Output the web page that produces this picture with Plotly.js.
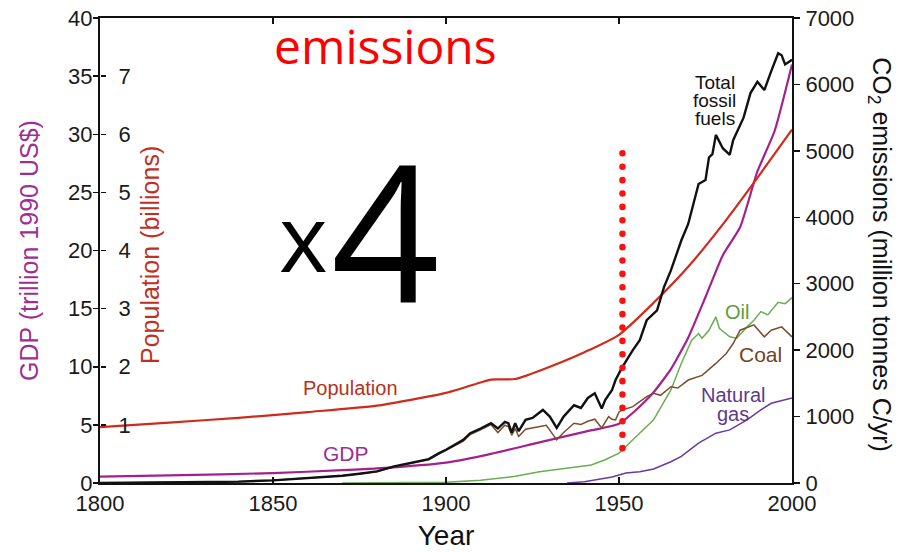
<!DOCTYPE html>
<html>
<head>
<meta charset="utf-8">
<script src="https://cdn.plot.ly/plotly-3.0.1.min.js"></script>
<style>
html,body{margin:0;padding:0;background:#fff;}
.shapelayer path{stroke-linecap:round;}
</style>
</head>
<body>
<div id="chart" style="width:902px;height:552px;"></div>
<script>
// ---- data ----
const popYears = [1800,1820,1840,1860,1880,1900,1910,1913,1920,1930,1940,1950,1960,1970,1980,1990,2000];
const population = [0.96,1.04,1.12,1.22,1.33,1.55,1.73,1.78,1.79,2.0,2.25,2.55,3.1,3.72,4.45,5.25,6.08];

const gdpYears = [1800,1820,1850,1870,1880,1900,1913,1927,1940,1950,1955,1960,1965,1970,1975,1980,1985,1990,1995,2000];
const gdp = [0.55,0.65,0.85,1.1,1.25,1.75,2.5,3.5,4.4,5.1,6.3,7.8,9.8,12.5,16.0,19.6,22.0,26.8,30.3,36.0];

const fossilYears = [1800,1820,1840,1850,1860,1870,1875,1880,1885,1890,1895,1898,1900,1905,1907,1910,1913,1915,1917,1918,1919,1920,1921,1923,1925,1928,1930,1932,1934,1937,1939,1941,1943,1945,1946,1948,1949,1950,1951,1954,1956,1958,1960,1961,1963,1965,1968,1970,1973,1975,1976,1977,1978,1980,1982,1983,1986,1988,1990,1992,1994,1996,1997,1998,2000];
const fossil = [0,5,20,40,70,110,140,175,250,310,360,450,500,650,750,820,900,820,920,900,760,900,780,950,980,1100,1000,830,1000,1170,1130,1280,1350,1120,1250,1400,1550,1650,1750,2000,2150,2450,2550,2600,2950,3200,3650,3900,4500,4560,4900,4950,5240,5040,4940,5160,5500,5870,6040,5915,6200,6470,6440,6300,6370];

const coalYears = [1800,1820,1840,1850,1860,1870,1875,1880,1885,1890,1895,1898,1900,1905,1907,1910,1913,1915,1917,1918,1919,1920,1921,1923,1927,1929,1932,1934,1937,1939,1941,1943,1945,1947,1948,1949,1950,1951,1954,1958,1960,1962,1965,1967,1970,1974,1978,1981,1983,1985,1989,1992,1994,1997,2000];
const coal = [0,5,20,40,70,108,138,170,245,300,350,440,490,630,730,800,880,760,870,850,720,820,700,810,850,870,650,760,900,880,930,960,830,1000,960,950,1070,1100,1150,1300,1350,1320,1450,1430,1550,1620,1800,1950,2100,2300,2380,2200,2300,2350,2200];

const oilYears = [1870,1900,1910,1920,1927,1935,1942,1946,1950,1954,1960,1965,1968,1971,1973,1974,1976,1978,1979,1982,1984,1987,1989,1991,1993,1996,1998,2000];
const oil = [0,10,40,100,170,220,270,350,450,650,950,1400,1800,2150,2250,2180,2300,2500,2330,2200,2180,2350,2450,2580,2530,2720,2700,2790];

const gasYears = [1935,1940,1948,1950,1952,1956,1960,1965,1968,1973,1978,1982,1987,1991,1994,2000];
const gas = [0,20,90,120,150,170,210,320,400,600,750,800,950,1100,1200,1280];

const gdpTicks = [0,5,10,15,20,25,30,35,40];
const popTicks = [1,2,3,4,5,6,7];
const co2Ticks = [0,1000,2000,3000,4000,5000,6000,7000];
const yearTicks = [1800,1850,1900,1950,2000];

// ---- drawing ----
const F = 'Arial, "Liberation Sans", Helvetica, sans-serif';
const C = {pop:'#d02a1c', gdp:'#a3218f', fossil:'#111111', oil:'#6aae50', coal:'#7a4e2c', gas:'#6a3a9e'};

const traces = [
  {x: popYears, y: population, yaxis:'y2', mode:'lines', line:{color:C.pop, width:2.2, shape:'spline', smoothing:0.6}, hoverinfo:'skip'},
  {x: gdpYears, y: gdp, yaxis:'y', mode:'lines', line:{color:C.gdp, width:2.2, shape:'spline', smoothing:0.5}, hoverinfo:'skip'},
  {x: gasYears, y: gas, yaxis:'y3', mode:'lines', line:{color:C.gas, width:1.5}, hoverinfo:'skip'},
  {x: oilYears, y: oil, yaxis:'y3', mode:'lines', line:{color:C.oil, width:1.5}, hoverinfo:'skip'},
  {x: coalYears, y: coal, yaxis:'y3', mode:'lines', line:{color:C.coal, width:1.5}, hoverinfo:'skip'},
  {x: fossilYears, y: fossil, yaxis:'y3', mode:'lines', line:{color:C.fossil, width:2.4}, hoverinfo:'skip'}
];

function lbl(text, x, y, yref, color, size) {
  return {text, x, y, xref:'x', yref, showarrow:false, xanchor:'center', yanchor:'middle',
          font:{family:F, size, color}};
}

const layout = {
  width: 902, height: 552,
  margin: {l:100, r:110, t:18, b:69},
  paper_bgcolor:'#ffffff', plot_bgcolor:'#ffffff',
  showlegend:false,
  xaxis: {range:[1800,2000], tickvals:yearTicks, ticks:'inside', ticklen:6, tickwidth:1.5, tickcolor:'#111',
          showline:true, linewidth:2, linecolor:'#111', mirror:'ticks', showgrid:false, zeroline:false,
          tickfont:{family:F, size:22, color:'#1a1a1a'},
          title:{text:'Year', font:{family:F, size:28, color:'#111'}, standoff:10}},
  yaxis: {range:[0,40], tickvals:gdpTicks, ticks:'outside', ticklen:5, tickwidth:1.5, tickcolor:'#111',
          showline:true, linewidth:2, linecolor:'#111', showgrid:false, zeroline:false,
          tickfont:{family:F, size:22, color:'#1a1a1a'}, ticklabelstandoff:-4,
          title:{text:'GDP (trillion 1990 US$)', font:{family:F, size:25, color:'#9c2f92'}, standoff:22}},
  yaxis2: {range:[0,8], tickvals:popTicks, overlaying:'y', side:'right', anchor:'free', position:0,
          ticks:'outside', ticklen:5, tickwidth:1.5, tickcolor:'#111',
          showline:false, showgrid:false, zeroline:false,
          tickfont:{family:F, size:22, color:'#1a1a1a'}, ticklabelstandoff:8},
  yaxis3: {range:[0,7000], tickvals:co2Ticks, overlaying:'y', side:'right', ticks:'outside', ticklen:6, tickwidth:1.5, tickcolor:'#111',
          showline:true, linewidth:2, linecolor:'#111', showgrid:false, zeroline:false,
          tickfont:{family:F, size:22, color:'#1a1a1a'}, ticklabelstandoff:1},
  shapes: [
    {type:'line', xref:'x', yref:'y', x0:1951, x1:1951, y0:3.0, y1:29.0,
     line:{color:'#ff1010', width:6.5, dash:'0.1px,13.3px'}}
  ],
  annotations: [
    {text:'Population (billions)', xref:'paper', yref:'paper', x:0.072, y:0.49, textangle:-90, showarrow:false,
     xanchor:'center', yanchor:'middle', font:{family:F, size:25, color:'#c0301e'}},
    {text:'CO<sub>2</sub> emissions (million tonnes C/yr)', xref:'paper', yref:'paper', x:1.127, y:0.49, textangle:90, showarrow:false,
     xanchor:'center', yanchor:'middle', font:{family:F, size:25, color:'#111'}},
    lbl('Total', 1977.7, 6035, 'y3', '#111', 19),
    lbl('fossil', 1977.7, 5764, 'y3', '#111', 19),
    lbl('fuels', 1977.7, 5493, 'y3', '#111', 19),
    lbl('Oil', 1984.1, 2574, 'y3', '#5a9e3e', 20),
    lbl('Coal', 1990.8, 1930, 'y3', '#6e4424', 21),
    lbl('Natural', 1983.0, 1320, 'y3', '#5b3a8c', 20),
    lbl('gas', 1983.0, 1035, 'y3', '#5b3a8c', 20),
    lbl('Population', 1872.5, 8.2, 'y', '#b8301e', 20),
    lbl('GDP', 1871.0, 2.5, 'y', '#9c2f92', 21),
    {text:'emissions', xref:'paper', yref:'paper', x:0.412, y:0.94, showarrow:false, xanchor:'center', yanchor:'middle',
     font:{family:'"Open Sans", sans-serif', size:48, color:'#ff0000'}},
    {text:'x', xref:'paper', yref:'paper', x:0.294, y:0.532, showarrow:false, xanchor:'center', yanchor:'middle',
     font:{family:'"Open Sans", sans-serif', size:93, color:'#000'}},
    {text:'4', xref:'paper', yref:'paper', x:0.412, y:0.545, showarrow:false, xanchor:'center', yanchor:'middle',
     font:{family:'"Open Sans", sans-serif', size:190, color:'#000'}}
  ]
};

Plotly.newPlot('chart', traces, layout, {staticPlot:true, displayModeBar:false});
</script>
</body>
</html>
